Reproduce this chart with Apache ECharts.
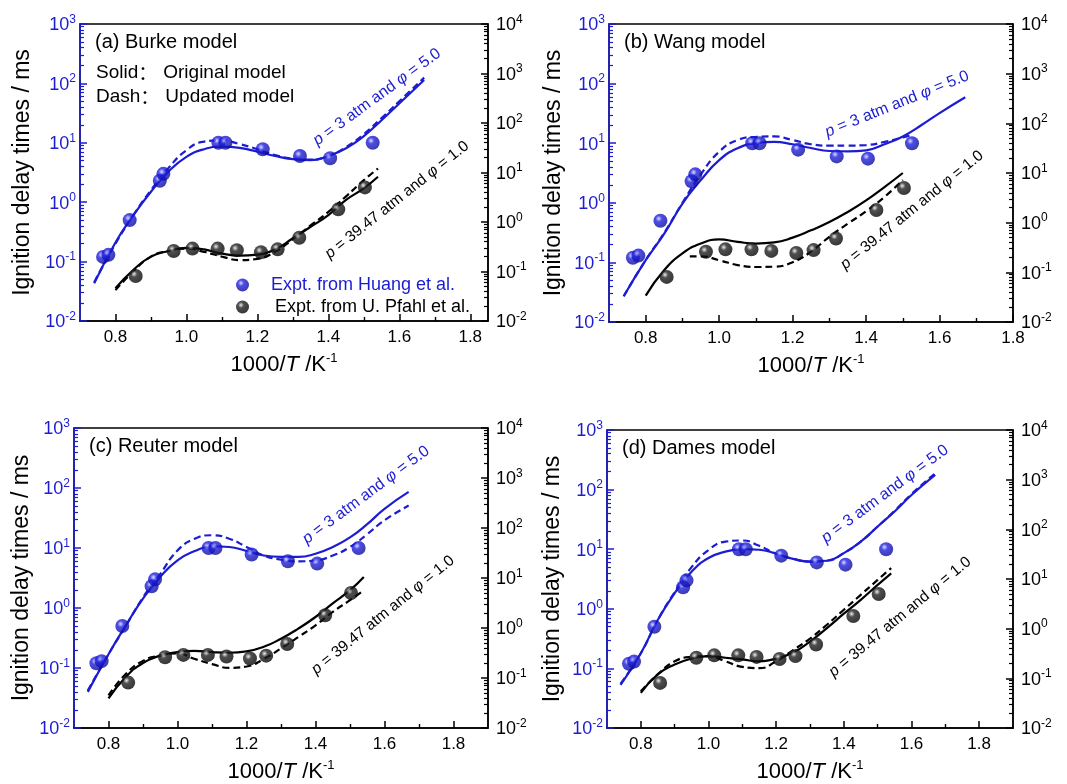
<!DOCTYPE html>
<html>
<head>
<meta charset="utf-8">
<script src="https://cdn.jsdelivr.net/npm/echarts@6.0.0/dist/echarts.min.js"></script>
<style>
  html, body { margin: 0; padding: 0; background: #ffffff; }
  #chart { width: 1067px; height: 784px; }
</style>
</head>
<body>
<div id="chart"></div>
<script>
// ---- measured data -------------------------------------------------------
// Experimental ignition delay times (ms)
const huangX   = [0.765, 0.78, 0.84, 0.925, 0.935, 1.09, 1.11, 1.215, 1.32, 1.405, 1.525];
const huangTau = [0.12, 0.13, 0.5, 2.3, 3.0, 10, 10, 7.8, 6.0, 5.5, 10];
const pfahlX   = [0.857, 0.964, 1.017, 1.088, 1.142, 1.21, 1.257, 1.318, 1.428, 1.503];
const pfahlTau = [0.081, 0.26, 0.29, 0.29, 0.27, 0.245, 0.28, 0.48, 1.8, 5.0];

// ---- model predictions -----------------------------------------------------
const blueCurveX  = [0.74, 0.8, 0.85, 0.9, 0.95, 1.0, 1.05, 1.1, 1.15, 1.2, 1.25, 1.3, 1.35, 1.4, 1.45, 1.5, 1.55, 1.6, 1.67];
const blackCurveX = [0.8, 0.85, 0.9, 0.95, 1.0, 1.05, 1.1, 1.15, 1.2, 1.25, 1.3, 1.35, 1.4, 1.45, 1.5, 1.54];

// (a) Burke
const burkeBlueSolid  = [0.043, 0.21, 0.6, 1.5, 3.3, 5.8, 7.8, 8.6, 8.2, 7.1, 6.0, 5.3, 5.1, 6.0, 8.1, 13, 24, 46, 114];
const burkeBlueDash   = [0.045, 0.2, 0.6, 1.6, 3.8, 7.5, 10.5, 11, 9.5, 7.8, 6.2, 5.4, 5.2, 6.0, 8.5, 14, 26, 50, 125];
const burkeBlackSolid = [0.046, 0.107, 0.2, 0.26, 0.30, 0.28, 0.23, 0.21, 0.22, 0.28, 0.47, 0.8, 1.38, 2.8, 4.8, 8.2];
const burkeBlackDash  = [0.042, 0.1, 0.2, 0.26, 0.29, 0.25, 0.2, 0.17, 0.18, 0.25, 0.45, 0.85, 1.6, 3.3, 7, 12];

// (b) Wang
const wangBlueSolid   = [0.027, 0.109, 0.30, 0.97, 2.4, 5.2, 8.2, 10, 10.5, 9.6, 8.3, 7.4, 7.3, 7.6, 9.6, 13, 20, 32, 59];
const wangBlueDashX   = [0.74, 0.8, 0.85, 0.9, 0.95, 1.0, 1.05, 1.1, 1.15, 1.2, 1.25, 1.3, 1.35, 1.4, 1.45, 1.5, 1.52];
const wangBlueDash    = [0.027, 0.11, 0.31, 1.0, 3.0, 7.2, 11.3, 12.8, 13, 11.3, 9.6, 9.1, 9.1, 9.3, 10.5, 12.5, 13.5];
const wangBlackX      = [0.8, 0.85, 0.9, 0.95, 1.0, 1.05, 1.1, 1.15, 1.2, 1.25, 1.3, 1.35, 1.4, 1.45, 1.5];
const wangBlackSolid  = [0.034, 0.11, 0.24, 0.38, 0.46, 0.41, 0.38, 0.40, 0.50, 0.70, 1.03, 1.64, 2.8, 5.2, 10];
const wangBlackDashX  = [0.92, 0.95, 1.0, 1.05, 1.1, 1.15, 1.2, 1.25, 1.3, 1.35, 1.4, 1.45, 1.5];
const wangBlackDash   = [0.21, 0.21, 0.175, 0.14, 0.128, 0.13, 0.16, 0.26, 0.52, 0.95, 1.7, 3.3, 7.2];

// (c) Reuter
const reuterBlueSolid  = [0.04, 0.17, 0.51, 1.43, 3.3, 6.2, 8.9, 10.7, 10.4, 8.9, 7.5, 7.1, 7.1, 8.0, 10.4, 15, 25, 45, 86];
const reuterBlueDash   = [0.042, 0.17, 0.5, 1.5, 3.7, 9.1, 14.3, 16.3, 14.3, 10.4, 7.5, 6.4, 6.0, 6.2, 7.5, 10.4, 17, 29, 51];
const reuterBlackSolid = [0.039, 0.105, 0.2, 0.28, 0.33, 0.35, 0.33, 0.32, 0.34, 0.42, 0.61, 0.97, 1.66, 3.1, 5.7, 10.5];
const reuterBlackDash  = [0.045, 0.12, 0.22, 0.28, 0.31, 0.24, 0.19, 0.16, 0.17, 0.24, 0.39, 0.66, 1.13, 2.1, 3.6, 5.7];

// (d) Dames
const damesBlueSolid  = [0.053, 0.18, 0.65, 1.83, 4.2, 7.1, 9.1, 10, 9.8, 8.4, 6.9, 6.2, 6.4, 8.6, 13.4, 24, 43, 81, 176];
const damesBlueDash   = [0.055, 0.18, 0.65, 1.9, 5.0, 9.7, 13.4, 14, 11.4, 8.4, 6.9, 6.2, 6.4, 8.6, 13.4, 24, 44, 84, 188];
const damesBlackSolid = [0.051, 0.12, 0.19, 0.25, 0.28, 0.26, 0.24, 0.22, 0.25, 0.33, 0.55, 1.03, 2.0, 3.8, 7.6, 13];
const damesBlackDash  = [0.055, 0.12, 0.22, 0.27, 0.28, 0.22, 0.17, 0.16, 0.22, 0.37, 0.63, 1.2, 2.4, 4.8, 9.6, 16.6];

// ---- axis ticks and labels ----------------------------------------------------
const xMajorTicks = [0.8, 1.0, 1.2, 1.4, 1.6, 1.8];
const xMinorTicks = [0.9, 1.1, 1.3, 1.5, 1.7];
const leftDecades  = [0.01, 0.1, 1, 10, 100, 1000];
const rightDecades = [0.01, 0.1, 1, 10, 100, 1000, 10000];

const panelTitles = ['(a) Burke model', '(b) Wang model', '(c) Reuter model', '(d) Dames model'];
const blueCaseLabel  = '{i|p} = 3 atm and {i|φ} = 5.0';
const blackCaseLabel = '{i|p} = 39.47 atm and {i|φ} = 1.0';
const huangName = 'Expt. from Huang et al.';
const pfahlName = 'Expt. from U. Pfahl et al.';

// ---- styling ----------------------------------------------------------------
const BLUE = '#1c1cd2';
const BLACK = '#000000';
const FONT = '"Liberation Sans", Arial, Helvetica, sans-serif';

const zip = (xs, ys) => xs.map((x, k) => [x, ys[k]]);

const models = [
  { blueSolid: zip(blueCurveX, burkeBlueSolid),  blueDash: zip(blueCurveX, burkeBlueDash),
    blackSolid: zip(blackCurveX, burkeBlackSolid), blackDash: zip(blackCurveX, burkeBlackDash) },
  { blueSolid: zip(blueCurveX, wangBlueSolid),   blueDash: zip(wangBlueDashX, wangBlueDash),
    blackSolid: zip(wangBlackX, wangBlackSolid),   blackDash: zip(wangBlackDashX, wangBlackDash) },
  { blueSolid: zip(blueCurveX, reuterBlueSolid), blueDash: zip(blueCurveX, reuterBlueDash),
    blackSolid: zip(blackCurveX, reuterBlackSolid), blackDash: zip(blackCurveX, reuterBlackDash) },
  { blueSolid: zip(blueCurveX, damesBlueSolid),  blueDash: zip(blueCurveX, damesBlueDash),
    blackSolid: zip(blackCurveX, damesBlackSolid), blackDash: zip(blackCurveX, damesBlackDash) }
];

// plot-area placement of the four panels
const layout = [
  { left: 80,  top: 24,  width: 408, height: 297, xMax: 1.85, yNameGap: 46 },
  { left: 609, top: 24,  width: 404, height: 298, xMax: 1.8,  yNameGap: 44 },
  { left: 74,  top: 428, width: 414, height: 300, xMax: 1.9,  yNameGap: 41 },
  { left: 607, top: 430, width: 406, height: 298, xMax: 1.9,  yNameGap: 43 }
];

// rotated case annotations: centre (px) and angle (deg)
const annot = [
  { blue: [377, 97, 36],  black: [397, 200, 38.5] },
  { blue: [897, 104, 22], black: [912, 210, 39] },
  { blue: [366, 495, 36.5], black: [383, 615, 39] },
  { blue: [885, 494, 36.5], black: [900, 617, 39.5] }
];

function powRich(color, base, sup) {
  return {
    b: { fontSize: base, color: color, fontFamily: FONT, verticalAlign: 'bottom' },
    s: { fontSize: sup, color: color, fontFamily: FONT, verticalAlign: 'bottom', padding: [0, 0, Math.round(base * 0.5), 0] }
  };
}
const powLabel = v => '{b|10}{s|' + Math.round(Math.log10(v)) + '}';

function sphere(main, dark, light) {
  return {
    type: 'radial', x: 0.38, y: 0.35, r: 0.75,
    colorStops: [
      { offset: 0, color: light },
      { offset: 0.3, color: main },
      { offset: 1, color: dark }
    ]
  };
}
const blueBall  = sphere('#2020e0', '#08088c', '#d0d4ff');
const blackBall = sphere('#222222', '#000000', '#e6e6e6');

const grids = [], xAxes = [], yAxes = [], series = [], graphics = [];

layout.forEach((L, i) => {
  grids.push({
    left: L.left, top: L.top, width: L.width, height: L.height,
    show: true, borderColor: BLACK, borderWidth: 1.5, backgroundColor: 'transparent',
    containLabel: false, outerBoundsMode: 'none'
  });

  // x axes: major ticks + labels, then minor ticks
  xAxes.push({
    type: 'value', gridIndex: i, position: 'bottom', min: 0.7, max: L.xMax,
    axisLine: { show: true, onZero: false, lineStyle: { color: BLACK, width: 1.5 } },
    axisTick: { show: true, inside: true, length: 7, customValues: xMajorTicks, lineStyle: { color: BLACK, width: 1.5 } },
    axisLabel: { show: true, customValues: xMajorTicks, formatter: v => v.toFixed(1), fontSize: 17, color: BLACK, fontFamily: FONT, margin: 8 },
    splitLine: { show: false },
    name: '{n|1000/}{t|T}{n| /K}{s|-1}', nameLocation: 'middle', nameGap: 31,
    nameTextStyle: {
      rich: {
        n: { fontSize: 22, color: BLACK, fontFamily: FONT, verticalAlign: 'bottom' },
        t: { fontSize: 22, color: BLACK, fontFamily: FONT, fontStyle: 'italic', verticalAlign: 'bottom' },
        s: { fontSize: 13, color: BLACK, fontFamily: FONT, verticalAlign: 'bottom', padding: [0, 0, 11, 0] }
      }
    }
  });
  xAxes.push({
    type: 'value', gridIndex: i, position: 'bottom', min: 0.7, max: L.xMax,
    axisLine: { show: false, onZero: false },
    axisTick: { show: true, inside: true, length: 4, customValues: xMinorTicks, lineStyle: { color: BLACK, width: 1.4 } },
    axisLabel: { show: false }, splitLine: { show: false }
  });

  // y axes: left (blue case) and right (black case), log scale with decade minor ticks
  yAxes.push({
    type: 'log', logBase: 10, gridIndex: i, position: 'left', min: 0.01, max: 1000,
    axisLine: { show: true, lineStyle: { color: BLUE, width: 1.5 } },
    axisTick: { show: true, inside: true, length: 7, customValues: leftDecades, lineStyle: { color: BLUE, width: 1.5 } },
    minorTick: { show: true, splitNumber: 9, length: 4, lineStyle: { color: BLUE, width: 1.2 } },
    axisLabel: { show: true, customValues: leftDecades, formatter: powLabel, rich: powRich(BLUE, 18, 12), margin: 4 },
    splitLine: { show: false }, minorSplitLine: { show: false },
    name: 'Ignition delay times / ms', nameLocation: 'middle', nameGap: L.yNameGap,
    nameTextStyle: { fontSize: 23, color: BLACK, fontFamily: FONT }
  });
  yAxes.push({
    type: 'log', logBase: 10, gridIndex: i, position: 'right', min: 0.01, max: 10000,
    axisLine: { show: true, lineStyle: { color: BLACK, width: 1.5 } },
    axisTick: { show: true, inside: true, length: 7, customValues: rightDecades, lineStyle: { color: BLACK, width: 1.5 } },
    minorTick: { show: true, splitNumber: 9, length: 4, lineStyle: { color: BLACK, width: 1.2 } },
    axisLabel: { show: true, customValues: rightDecades, formatter: powLabel, rich: powRich(BLACK, 18, 12), margin: 8 },
    splitLine: { show: false }, minorSplitLine: { show: false }
  });

  const xi = 2 * i, yl = 2 * i, yr = 2 * i + 1;
  const m = models[i];
  const line = (data, yIdx, color, dashed) => ({
    type: 'line', xAxisIndex: xi, yAxisIndex: yIdx, data: data,
    symbol: 'none', smooth: 0.5, silent: true, z: 3,
    lineStyle: { color: color, width: 2.2, type: dashed ? [7, 4] : 'solid' }
  });
  series.push(line(m.blueSolid, yl, BLUE, false));
  series.push(line(m.blueDash, yl, BLUE, true));
  series.push(line(m.blackSolid, yr, BLACK, false));
  series.push(line(m.blackDash, yr, BLACK, true));
  series.push({
    type: 'scatter', name: huangName, xAxisIndex: xi, yAxisIndex: yl,
    data: zip(huangX, huangTau), symbol: 'circle', symbolSize: 14, z: 5,
    itemStyle: { color: blueBall, borderWidth: 0 }
  });
  series.push({
    type: 'scatter', name: pfahlName, xAxisIndex: xi, yAxisIndex: yr,
    data: zip(pfahlX, pfahlTau), symbol: 'circle', symbolSize: 14, z: 5,
    itemStyle: { color: blackBall, borderWidth: 0 }
  });

  // panel heading
  graphics.push({
    type: 'text', x: L.left + 15, y: L.top + 18, z: 10,
    style: { text: panelTitles[i], fill: BLACK, fontSize: 20, fontFamily: FONT,
             align: 'left', verticalAlign: 'middle', textAlign: 'left', textVerticalAlign: 'middle' }
  });

  // case annotations along the curves
  const A = annot[i];
  [['blue', blueCaseLabel, BLUE, 16], ['black', blackCaseLabel, BLACK, 15.5]].forEach(([key, txt, col, fs]) => {
    const [cx, cy, deg] = A[key];
    graphics.push({
      type: 'text', x: cx, y: cy, rotation: deg * Math.PI / 180, z: 10,
      style: {
        text: txt, fill: col, fontSize: fs, fontFamily: FONT,
        align: 'center', verticalAlign: 'middle', textAlign: 'center', textVerticalAlign: 'middle',
        rich: {
          i: { fontStyle: 'italic', fontSize: fs, fill: col, color: col, fontFamily: FONT }
        }
      }
    });
  });
});

// line-style key in panel (a)
const keyRich = {
  a: { fontSize: 19, fontFamily: FONT, fill: BLACK, color: BLACK },
  c: { fontSize: 19, fontFamily: '"Noto Sans CJK SC", sans-serif', fill: BLACK, color: BLACK, padding: [0, 6, 0, 0] }
};
graphics.push({
  type: 'text', x: 96, y: 73, z: 10,
  style: { text: '{a|Solid}{c|：}{a|Original model}', rich: keyRich, fill: BLACK, fontSize: 19, fontFamily: FONT,
           align: 'left', verticalAlign: 'middle', textAlign: 'left', textVerticalAlign: 'middle' }
});
graphics.push({
  type: 'text', x: 96, y: 97, z: 10,
  style: { text: '{a|Dash}{c|：}{a|Updated model}', rich: keyRich, fill: BLACK, fontSize: 19, fontFamily: FONT,
           align: 'left', verticalAlign: 'middle', textAlign: 'left', textVerticalAlign: 'middle' }
});

const option = {
  backgroundColor: '#ffffff',
  animation: false,
  textStyle: { fontFamily: FONT },
  grid: grids,
  xAxis: xAxes,
  yAxis: yAxes,
  legend: {
    show: true, orient: 'vertical', left: 231, top: 271,
    itemWidth: 13, itemHeight: 13, itemGap: 4, icon: 'circle', selectedMode: false,
    textStyle: { fontSize: 18, fontFamily: FONT },
    data: [
      { name: huangName, textStyle: { color: BLUE, padding: [0, 0, 0, 17] } },
      { name: pfahlName, textStyle: { color: BLACK, padding: [0, 0, 0, 21] } }
    ]
  },
  series: series,
  graphic: graphics
};

const chart = echarts.init(document.getElementById('chart'), null, { renderer: 'canvas' });
chart.setOption(option);
</script>
</body>
</html>
